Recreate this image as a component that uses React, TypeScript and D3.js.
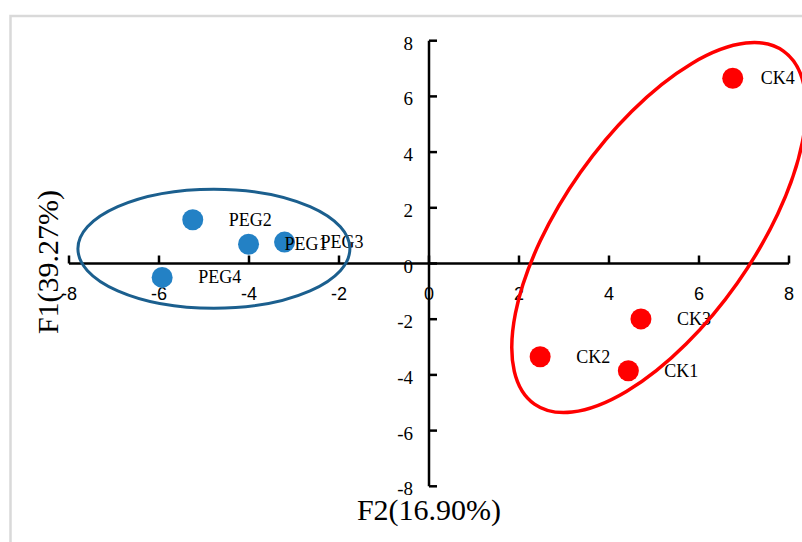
import React from "react";
import * as d3 from "d3";

const W = 802;
const H = 542;

// Data
const pegNames = ["PEG2", "PEG1", "PEG3", "PEG4"];
const pegF2 = [-5.25, -4.01, -3.21, -5.93];
const pegF1 = [1.57, 0.69, 0.77, -0.5];

const ckNames = ["CK4", "CK3", "CK2", "CK1"];
const ckF2 = [6.75, 4.71, 2.47, 4.43];
const ckF1 = [6.65, -1.99, -3.35, -3.85];

const xTicks = [-8, -6, -4, -2, 0, 2, 4, 6, 8];
const yTicks = [-8, -6, -4, -2, 0, 2, 4, 6, 8];

const xTitle = "F2(16.90%)";
const yTitle = "F1(39.27%)";

// group ellipses (data-space centres)
const pegEllipseCenter = [-4.78, 0.53];
const ckEllipseCenter = [5.11, 1.29];

// styles
const BLUE_PT = "#2381c5";
const BLUE_EL = "#1b5f8e";
const RED = "#ff0000";
const SERIF = "'Liberation Serif', 'Times New Roman', serif";
const SANS = "'Liberation Sans', Arial, sans-serif";
const labelDxOverride: Record<string, number> = { CK4: 28 };

export default function App() {
  const x = d3.scaleLinear().domain([-8, 8]).range([69, 789]);
  const y = d3.scaleLinear().domain([-8, 8]).range([486.3, 40.7]);
  const x0 = x(0);
  const y0 = y(0);

  const peg = pegNames.map((n, i) => ({ n, x: pegF2[i], y: pegF1[i] }));
  const ck = ckNames.map((n, i) => ({ n, x: ckF2[i], y: ckF1[i] }));

  const r = 10.5;
  const labelDx = (n: string) => labelDxOverride[n] ?? 36;

  return (
    <svg
      width={W}
      height={H}
      style={{ position: "absolute", left: 0, top: 0, background: "#fff" }}
    >
      <rect x={0} y={0} width={W} height={H} fill="#fff" />
      {/* frame */}
      <rect
        x={10.5}
        y={16}
        width={850}
        height={600}
        fill="none"
        stroke="#d9d9d9"
        strokeWidth={2.5}
      />

      {/* x tick labels */}
      {xTicks.map((t) => (
        <text
          key={"xl" + t}
          x={x(t)}
          y={300}
          textAnchor="middle"
          fontFamily={SANS}
          fontSize={18}
          fill="#000"
        >
          {t}
        </text>
      ))}
      {/* y tick labels */}
      {yTicks.map((t) => (
        <text
          key={"yl" + t}
          x={413}
          y={y(t) + 2.5}
          textAnchor="end"
          dominantBaseline="central"
          fontFamily={SERIF}
          fontSize={19}
          fill="#000"
        >
          {t}
        </text>
      ))}

      {/* axes */}
      <line x1={x(-8)} x2={x(8)} y1={y0} y2={y0} stroke="#000" strokeWidth={2.5} />
      {xTicks.map((t) => (
        <line
          key={"xt" + t}
          x1={x(t)}
          x2={x(t)}
          y1={y0}
          y2={y0 - 8}
          stroke="#000"
          strokeWidth={2.5}
        />
      ))}
      <line x1={x0} x2={x0} y1={y(-8)} y2={y(8)} stroke="#000" strokeWidth={2.5} />
      {yTicks.map((t) => (
        <line
          key={"yt" + t}
          x1={x0}
          x2={x0 + 8}
          y1={y(t)}
          y2={y(t)}
          stroke="#000"
          strokeWidth={2.5}
        />
      ))}

      {/* points */}
      {peg.map((d) => (
        <circle key={d.n} cx={x(d.x)} cy={y(d.y)} r={r} fill={BLUE_PT} />
      ))}
      {ck.map((d) => (
        <circle key={d.n} cx={x(d.x)} cy={y(d.y)} r={r} fill={RED} />
      ))}

      {/* labels */}
      {[...peg, ...ck].map((d) => (
        <text
          key={"lb" + d.n}
          x={x(d.x) + labelDx(d.n)}
          y={y(d.y)}
          dominantBaseline="central"
          fontFamily={SERIF}
          fontSize={18}
          fill="#000"
        >
          {d.n}
        </text>
      ))}

      {/* ellipses */}
      <ellipse
        cx={x(pegEllipseCenter[0])}
        cy={y(pegEllipseCenter[1])}
        rx={136}
        ry={59.5}
        fill="none"
        stroke={BLUE_EL}
        strokeWidth={3}
      />
      <ellipse
        cx={0}
        cy={0}
        rx={216}
        ry={96}
        fill="none"
        stroke={RED}
        strokeWidth={3.5}
        transform={`translate(${x(ckEllipseCenter[0])},${y(ckEllipseCenter[1])}) rotate(-54.8)`}
      />

      {/* axis titles */}
      <text
        x={429}
        y={520}
        textAnchor="middle"
        fontFamily={SERIF}
        fontSize={30}
        fill="#000"
      >
        {xTitle}
      </text>
      <text
        transform={`translate(58,262) rotate(-90)`}
        textAnchor="middle"
        fontFamily={SERIF}
        fontSize={30}
        fill="#000"
      >
        {yTitle}
      </text>
    </svg>
  );
}
